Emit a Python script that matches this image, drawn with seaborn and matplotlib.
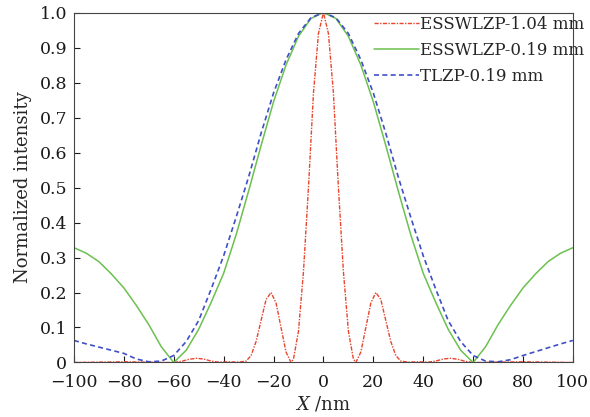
import seaborn as sns, matplotlib.pyplot as plt

# x positions (nm) and normalized intensity
X_RED = [-100, -90, -80, -70, -64, -60, -57, -54, -51, -48, -45, -42, -38, -34, -31, -29, -27, -25, -23, -21,
         -19, -17, -15, -13, -12, -10, -8, -6, -4, -2, 0,
         2, 4, 6, 8, 10, 12, 13, 15, 17, 19, 21, 23, 25, 27, 29, 31, 34, 38, 42, 45, 48, 51, 54, 57, 60,
         64, 70, 80, 90, 100]
RED = [0.0, 0.001, 0.002, 0.001, 0.0, 0.0, 0.003, 0.009, 0.012, 0.01, 0.004, 0.001, 0.002, 0.001, 0.004, 0.02, 0.06, 0.12, 0.18, 0.2,
       0.17, 0.1, 0.03, 0.0, 0.01, 0.09, 0.26, 0.5, 0.77, 0.94, 1.0,
       0.94, 0.77, 0.5, 0.26, 0.09, 0.01, 0.0, 0.03, 0.1, 0.17, 0.2, 0.18, 0.12, 0.06, 0.02, 0.004, 0.001, 0.002, 0.001, 0.004, 0.01, 0.012, 0.009, 0.003, 0.0,
       0.0, 0.001, 0.002, 0.001, 0.0]

X_BROAD = [-100, -95, -90, -85, -80, -75, -70, -65, -60, -55, -50, -45, -40, -35, -30, -25, -20, -15, -10, -5, 0,
           5, 10, 15, 20, 25, 30, 35, 40, 45, 50, 55, 60, 65, 70, 75, 80, 85, 90, 95, 100]
GREEN = [0.328, 0.312, 0.288, 0.253, 0.213, 0.163, 0.108, 0.045, 0.0, 0.035, 0.095, 0.172, 0.255, 0.365, 0.49, 0.62, 0.745, 0.85, 0.932, 0.983, 1.0,
         0.983, 0.932, 0.85, 0.745, 0.62, 0.49, 0.365, 0.255, 0.172, 0.095, 0.035, 0.0, 0.045, 0.108, 0.163, 0.213, 0.253, 0.288, 0.312, 0.328]
BLUE = [0.063, 0.053, 0.044, 0.035, 0.026, 0.01, 0.002, 0.004, 0.02, 0.06, 0.12, 0.21, 0.305, 0.415, 0.53, 0.655, 0.77, 0.865, 0.94, 0.985, 1.0,
        0.985, 0.94, 0.865, 0.77, 0.655, 0.53, 0.415, 0.305, 0.21, 0.12, 0.06, 0.02, 0.004, 0.002, 0.008, 0.02, 0.031, 0.042, 0.053, 0.063]

LABELS = ["ESSWLZP-1.04 mm", "ESSWLZP-0.19 mm", "TLZP-0.19 mm"]

sns.set_style("ticks")
plt.rcParams["font.family"] = ["DejaVu Serif"]
plt.rcParams["mathtext.fontset"] = "dejavuserif"

fig = plt.figure(figsize=(5.9, 4.17), dpi=100)
ax = fig.add_axes([0.1254, 0.1307, 0.8456, 0.8393])

sns.lineplot(x=X_RED, y=RED, ax=ax, color="#e8462e", lw=1.0, linestyle=(0, (3, 1, 1, 1)), label=LABELS[0])
sns.lineplot(x=X_BROAD, y=GREEN, ax=ax, color="#6cc04f", lw=1.1, label=LABELS[1])
sns.lineplot(x=X_BROAD, y=BLUE, ax=ax, color="#3f4fc8", lw=1.2, linestyle=(0, (3, 2)), label=LABELS[2])

ax.set_xlim(-100, 100)
ax.set_ylim(0, 1.0)
ax.set_xticks(range(-100, 101, 20))
ax.set_yticks([i / 10 for i in range(11)])
ax.set_yticklabels(["0"] + [f"{i / 10:.1f}" for i in range(1, 11)])
ax.set_xticklabels([str(v).replace("-", "\u2212") for v in range(-100, 101, 20)])
ax.tick_params(direction="in", length=4, width=0.8, labelsize=12.5, colors="#1a1a1a")
ax.tick_params(axis="x", pad=8)
ax.tick_params(axis="y", pad=5)
for s in ax.spines.values():
    s.set_linewidth(0.8)
    s.set_color("#444444")

ax.set_xlabel("$X$ /nm", fontsize=13, labelpad=3)
ax.set_ylabel("Normalized intensity", fontsize=13, labelpad=5)

ax.legend(loc="upper left", bbox_to_anchor=(0.634, 0.962), bbox_transform=fig.transFigure,
          frameon=False, fontsize=12, handlelength=2.7, handletextpad=0.05,
          labelspacing=0.55, borderaxespad=0, borderpad=0)

fig.savefig("out.png", dpi=100)
